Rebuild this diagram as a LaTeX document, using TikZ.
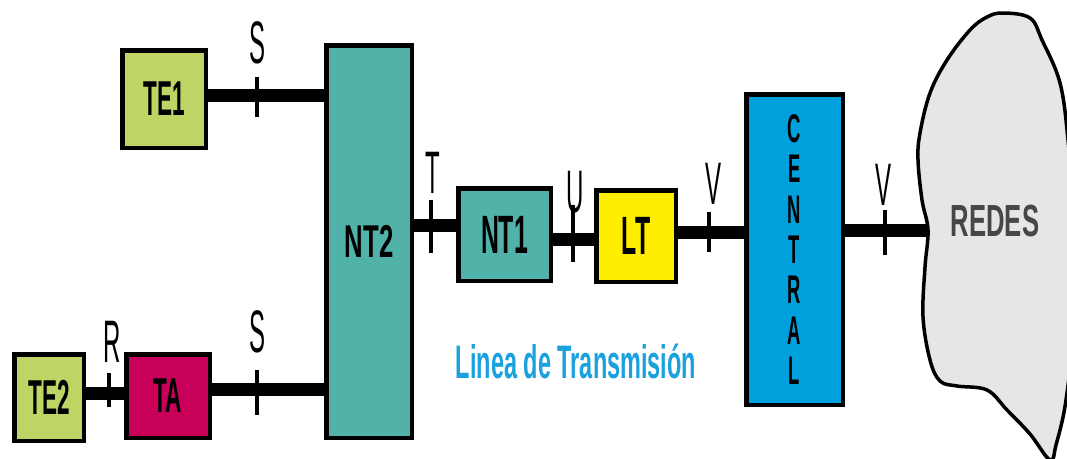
\documentclass[tikz,border=0pt]{standalone}
\usepackage{fontspec}
\setmainfont{Liberation Sans}
\newfontfamily\boxfont{Liberation Sans}[FakeStretch=0.46]
\newfontfamily\ntfont{Liberation Sans}[FakeStretch=0.56]
\newfontfamily\tickfont{Liberation Sans}[FakeStretch=0.40]
\newfontfamily\linefont{Liberation Sans}[FakeStretch=0.50]
\newfontfamily\redesfont{Liberation Sans}[FakeStretch=0.57]
\definecolor{tegreen}{HTML}{BED464}
\definecolor{ntteal}{HTML}{50B2A8}
\definecolor{tamag}{HTML}{C8005A}
\definecolor{ltyel}{HTML}{FFEE00}
\definecolor{cenblue}{HTML}{00A0DC}
\definecolor{cloudgray}{HTML}{E6E6E6}
\definecolor{redesgray}{HTML}{474747}
\definecolor{lineblue}{HTML}{1BA1DE}
\begin{document}
\begin{tikzpicture}[x=1pt,y=-1pt,
  box/.style={draw=black, line width=4.5pt, inner sep=0pt,
    font=\boxfont\bfseries\fontsize{49}{49}\selectfont},
  wire/.style={line width=13pt},
  tickmark/.style={line width=3.5pt},
  lbl/.style={inner sep=0pt, font=\tickfont\fontsize{60}{60}\selectfont}]
\useasboundingbox (0,0) rectangle (1067,458);
\fill[white] (0,0) rectangle (1067,458);
% cloud
\begin{scope}
\clip (0,0) rectangle (1067,458);
\draw[fill=cloudgray, line width=3.5pt] plot[smooth cycle, tension=0.6] coordinates {
 (1003,13) (1030,18) (1042,40) (1060,83) (1068,140) (1074,220) (1074,320)
 (1066,400) (1056,445) (1050,460) (1030,434) (1007,410) (987,390) (957,386)
 (940,381) (930,360) (923,317) (925,267) (928,230) (922,200) (918,160)
 (920,133) (930,93) (947,60) (970,30) (987,17)};
\end{scope}
\node[inner sep=0pt, text=redesgray, font=\redesfont\bfseries\fontsize{45}{45}\selectfont] (redes) at (995,221) {REDES};
\coordinate (redesin) at (928,230);
% boxes
\node[box, fill=tegreen, minimum width=83.5pt, minimum height=97.5pt] (te1) at (164,99) {TE1};
\node[box, fill=ntteal, minimum width=85.5pt, minimum height=392.5pt,
  font=\ntfont\bfseries\fontsize{46}{46}\selectfont] (nt2) at (369,241.5) {NT2};
\node[box, fill=tegreen, minimum width=69.5pt, minimum height=86.5pt] (te2) at (49,397.5) {TE2};
\node[box, fill=tamag, minimum width=83.5pt, minimum height=83.5pt] (ta) at (168,396) {TA};
\node[box, fill=ntteal, minimum width=92.5pt, minimum height=92.5pt,
  font=\boxfont\bfseries\fontsize{54}{54}\selectfont] (nt1) at (504.5,234.5) {NT1};
\node[box, fill=ltyel, minimum width=79.5pt, minimum height=91.5pt,
  font=\boxfont\bfseries\fontsize{54}{54}\selectfont] (lt) at (636,236) {LT};
\node[box, fill=cenblue, minimum width=96.5pt, minimum height=310.5pt, align=center,
  font=\boxfont\bfseries\fontsize{40}{40.3}\selectfont] (central) at (794.5,249.5) {C\\E\\N\\T\\R\\A\\L};
% tick points
\coordinate (s1) at (257,95);
\coordinate (s2) at (257,389);
\coordinate (r1) at (109,393);
\coordinate (t1) at (431,225);
\coordinate (u1) at (573,239);
\coordinate (v1) at (709,232);
\coordinate (v2) at (885,230);
% wires
\draw[wire] (te1.east |- s1) -- (nt2.west |- s1);
\draw[wire] (ta.east |- s2) -- (nt2.west |- s2);
\draw[wire] (te2.east |- r1) -- (ta.west |- r1);
\draw[wire] (nt2.east |- t1) -- (nt1.west |- t1);
\draw[wire] (nt1.east |- u1) -- (lt.west |- u1);
\draw[wire] (lt.east |- v1) -- (central.west |- v1);
\draw[wire] (central.east |- redesin) -- (redesin);
% ticks
\draw[tickmark] ([yshift=18pt]s1) -- ([yshift=-22pt]s1);
\draw[tickmark] ([yshift=19pt]s2) -- ([yshift=-26pt]s2);
\draw[tickmark] ([yshift=20pt]r1) -- ([yshift=-14pt]r1);
\draw[tickmark] ([yshift=25pt]t1) -- ([yshift=-28pt]t1);
\draw[tickmark] ([yshift=34pt]u1) -- ([yshift=-23pt]u1);
\draw[tickmark] ([yshift=20pt]v1) -- ([yshift=-20pt]v1);
\draw[tickmark] ([yshift=20pt]v2) -- ([yshift=-25pt]v2);
% labels
\node[lbl] (ls1) at ([xshift=1pt,yshift=52pt]s1) {S};
\node[lbl] (ls2) at ([xshift=1pt,yshift=57pt]s2) {S};
\node[lbl] (lr1) at ([xshift=3pt,yshift=51pt]r1) {R};
\node[lbl] (lt1) at ([xshift=2pt,yshift=52pt]t1) {T};
\node[lbl] (lu1) at ([xshift=2pt,yshift=47pt]u1) {U};
\node[lbl] (lv1) at ([xshift=4pt,yshift=48pt]v1) {V};
\node[lbl] (lv2) at ([xshift=-2pt,yshift=45pt]v2) {V};
\node[inner sep=0pt, text=lineblue, font=\linefont\bfseries\fontsize{47}{47}\selectfont] (linea) at (576,361) {Linea de Transmisión};
\end{tikzpicture}
\end{document}
